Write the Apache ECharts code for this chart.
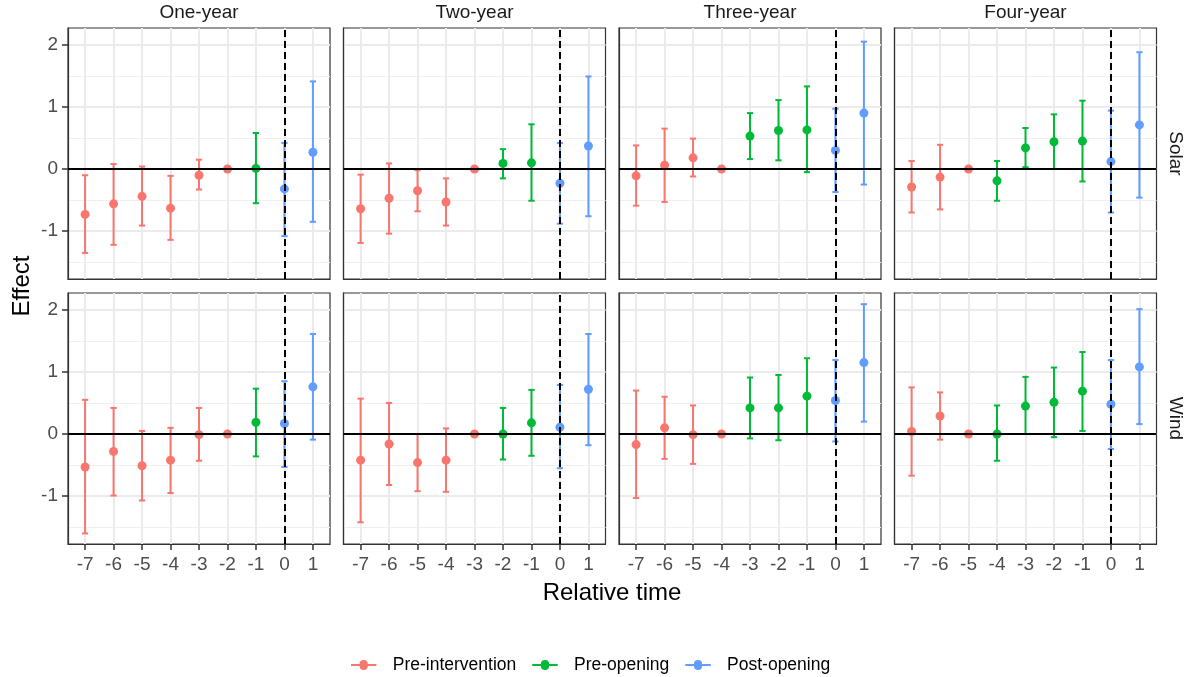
<!DOCTYPE html>
<html>
<head>
<meta charset="utf-8">
<script src="https://cdn.jsdelivr.net/npm/echarts@6/dist/echarts.min.js"></script>
<style>
  html, body { margin: 0; background: #fff; }
  #chart { width: 1190px; height: 677px; }
</style>
</head>
<body>
<div id="chart"></div>
<script>
// event-study estimates
const relTime = [-7, -6, -5, -4, -3, -2, -1, 0, 1];
const horizons = ['One-year', 'Two-year', 'Three-year', 'Four-year'];
const techs = ['Solar', 'Wind'];
const phases = ['Pre-intervention', 'Pre-opening', 'Post-opening'];
const phaseColors = ['#F8766D', '#00BA38', '#619CFF'];
const preOpeningStart = [-1, -2, -3, -4];
const yTicks = [-1, 0, 1, 2];
const yMinorTicks = [-1.5, -0.5, 0.5, 1.5];

const solarEst = [
  [-0.73, -0.56, -0.44, -0.63, -0.10, 0, 0.01, -0.32, 0.27],
  [-0.64, -0.47, -0.35, -0.53, 0, 0.09, 0.10, -0.23, 0.37],
  [-0.11, 0.06, 0.18, 0, 0.53, 0.62, 0.63, 0.30, 0.90],
  [-0.29, -0.13, 0, -0.19, 0.34, 0.44, 0.45, 0.12, 0.71]
];
const solarLo = [
  [-1.35, -1.22, -0.91, -1.14, -0.33, null, -0.55, -1.08, -0.85],
  [-1.19, -1.04, -0.68, -0.91, null, -0.15, -0.51, -0.88, -0.76],
  [-0.59, -0.53, -0.12, null, 0.16, 0.14, -0.05, -0.37, -0.25],
  [-0.70, -0.65, null, -0.51, 0.03, 0.00, -0.20, -0.70, -0.46]
];
const solarHi = [
  [-0.10, 0.08, 0.04, -0.11, 0.15, null, 0.58, 0.42, 1.41],
  [-0.09, 0.09, -0.02, -0.15, null, 0.32, 0.72, 0.42, 1.49],
  [0.38, 0.65, 0.49, null, 0.90, 1.11, 1.33, 0.97, 2.05],
  [0.13, 0.39, null, 0.13, 0.66, 0.88, 1.10, 0.94, 1.88]
];
const windEst = [
  [-0.53, -0.28, -0.51, -0.42, -0.01, 0, 0.19, 0.17, 0.76],
  [-0.42, -0.16, -0.46, -0.42, 0, 0.00, 0.18, 0.11, 0.72],
  [-0.17, 0.10, -0.01, 0, 0.42, 0.42, 0.61, 0.54, 1.15],
  [0.04, 0.29, 0, 0.00, 0.45, 0.51, 0.69, 0.48, 1.08]
];
const windLo = [
  [-1.60, -0.99, -1.07, -0.95, -0.43, null, -0.36, -0.53, -0.09],
  [-1.42, -0.82, -0.92, -0.93, null, -0.41, -0.35, -0.55, -0.18],
  [-1.03, -0.40, -0.48, null, -0.07, -0.10, 0.00, -0.12, 0.20],
  [-0.67, -0.09, null, -0.43, 0.00, -0.05, 0.05, -0.24, 0.16]
];
const windHi = [
  [0.55, 0.42, 0.05, 0.10, 0.42, null, 0.73, 0.85, 1.61],
  [0.57, 0.50, 0.00, 0.09, null, 0.42, 0.71, 0.79, 1.61],
  [0.70, 0.60, 0.46, null, 0.91, 0.95, 1.22, 1.19, 2.09],
  [0.75, 0.67, null, 0.46, 0.92, 1.07, 1.32, 1.19, 2.01]
];

const FONT = 'Liberation Sans, Arial, sans-serif';
const panelLeft = [68, 343.5, 619, 894.5];
const panelTop = [28, 293];
const panelW = 262;
const panelH = 251;
const capWidth = 0.22;

function phaseOf(h, t) {
  if (t >= 0) return 2;
  if (t >= preOpeningStart[h]) return 1;
  return 0;
}

function renderBar(params, api) {
  var x = api.value(0);
  var top = api.coord([x, api.value(2)]);
  var bot = api.coord([x, api.value(1)]);
  var half = api.size([capWidth, 0])[0] / 2;
  var style = { stroke: api.visual('color'), lineWidth: 2 };
  return {
    type: 'group',
    children: [
      { type: 'line', shape: { x1: top[0], y1: top[1], x2: bot[0], y2: bot[1] }, style: style },
      { type: 'line', shape: { x1: top[0] - half, y1: top[1], x2: top[0] + half, y2: top[1] }, style: style },
      { type: 'line', shape: { x1: bot[0] - half, y1: bot[1], x2: bot[0] + half, y2: bot[1] }, style: style }
    ]
  };
}

var chart = echarts.init(document.getElementById('chart'));
var grids = [], xAxes = [], yAxes = [], series = [], graphics = [];

techs.forEach(function (tech, r) {
  var est = r === 0 ? solarEst : windEst;
  var lo = r === 0 ? solarLo : windLo;
  var hi = r === 0 ? solarHi : windHi;
  horizons.forEach(function (hz, c) {
    var g = grids.length;
    var bottomRow = r === techs.length - 1;
    var leftCol = c === 0;
    grids.push({
      left: panelLeft[c], top: panelTop[r], width: panelW, height: panelH,
      show: true, borderColor: '#333', borderWidth: 1.2, backgroundColor: '#fff', z: 0
    });
    xAxes.push({
      gridIndex: g, type: 'value', min: -7.6, max: 1.6,
      axisLine: { show: true, onZero: false, lineStyle: { color: '#333', width: 1.2 } },
      axisTick: { show: bottomRow, customValues: relTime, length: 6, lineStyle: { color: '#333', width: 1.5 } },
      axisLabel: { show: bottomRow, customValues: relTime, color: '#4D4D4D', fontSize: 19, fontFamily: FONT, margin: 11 },
      splitLine: { show: true, lineStyle: { color: '#EBEBEB', width: 2 } }
    });
    var yMain = yAxes.length;
    yAxes.push({
      gridIndex: g, type: 'value', min: -1.77, max: 2.27,
      axisLine: { show: true, onZero: false, lineStyle: { color: '#333', width: 1.2 } },
      axisTick: { show: leftCol, customValues: yTicks, length: 6, lineStyle: { color: '#333', width: 1.5 } },
      axisLabel: { show: leftCol, customValues: yTicks, color: '#4D4D4D', fontSize: 19, fontFamily: FONT, margin: 10 },
      splitLine: { show: true, lineStyle: { color: '#EBEBEB', width: 2 } }
    });
    yAxes.push({
      gridIndex: g, type: 'value', min: -1.77, max: 2.27,
      axisLine: { show: false, onZero: false },
      axisTick: { show: false, customValues: yMinorTicks },
      axisLabel: { show: false, customValues: yMinorTicks },
      splitLine: { show: true, lineStyle: { color: '#EFEFEF', width: 1.2 } }
    });

    // reference lines at zero effect and at opening
    series.push({
      type: 'line', xAxisIndex: g, yAxisIndex: yMain, data: [], silent: true, z: 3,
      markLine: {
        symbol: 'none', silent: true, label: { show: false }, animation: false,
        data: [
          { yAxis: 0, lineStyle: { color: '#000', width: 2, type: 'solid' } },
          { xAxis: 0, lineStyle: { color: '#000', width: 2, type: [7, 4] } }
        ]
      }
    });

    phases.forEach(function (ph, p) {
      var bars = [], pts = [];
      relTime.forEach(function (t, i) {
        if (phaseOf(c, t) !== p) return;
        pts.push([t, est[c][i]]);
        if (lo[c][i] !== null) bars.push([t, lo[c][i], hi[c][i]]);
      });
      series.push({
        type: 'custom', name: ph, xAxisIndex: g, yAxisIndex: yMain, z: 2,
        itemStyle: { color: phaseColors[p] }, renderItem: renderBar, data: bars, silent: true
      });
      series.push({
        type: 'scatter', name: ph, xAxisIndex: g, yAxisIndex: yMain, z: 4,
        symbol: 'circle', symbolSize: 9, itemStyle: { color: phaseColors[p], opacity: 1 },
        data: pts, silent: true
      });
    });

    if (r === 0) {
      graphics.push({
        type: 'text', x: panelLeft[c] + panelW / 2, y: 13,
        style: { text: hz, font: '19px ' + FONT, fill: '#1A1A1A', align: 'center', verticalAlign: 'middle' }
      });
    }
  });
  graphics.push({
    type: 'text', x: 1175, y: panelTop[r] + panelH / 2, rotation: -Math.PI / 2,
    style: { text: tech, font: '19px ' + FONT, fill: '#1A1A1A', align: 'center', verticalAlign: 'middle' }
  });
});

graphics.push({
  type: 'text', x: 22, y: 286, rotation: Math.PI / 2,
  style: { text: 'Effect', font: '24px ' + FONT, fill: '#000', align: 'center', verticalAlign: 'middle' }
});
graphics.push({
  type: 'text', x: 612, y: 593,
  style: { text: 'Relative time', font: '24px ' + FONT, fill: '#000', align: 'center', verticalAlign: 'middle' }
});

var legendIcon = 'path://M0,4H9.5A4.5,4.5,0,0,1,18.5,4H28V6H18.5A4.5,4.5,0,0,1,9.5,6H0Z';

var option = {
  animation: false,
  backgroundColor: '#fff',
  grid: grids,
  xAxis: xAxes,
  yAxis: yAxes,
  series: series,
  graphic: graphics,
  legend: {
    left: 346, top: 651, itemWidth: 28, itemHeight: 10, itemGap: 16,
    textStyle: { fontSize: 17.5, fontFamily: FONT, color: '#000', padding: [0, 0, 0, 10] },
    data: phases.map(function (ph, p) {
      return { name: ph, icon: legendIcon, itemStyle: { color: phaseColors[p] } };
    })
  }
};

chart.setOption(option);
</script>
</body>
</html>
